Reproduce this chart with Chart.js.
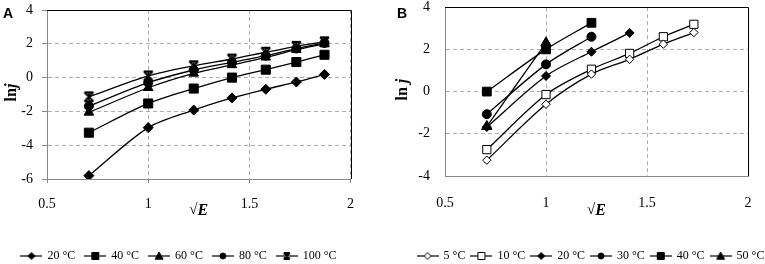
<!DOCTYPE html>
<html><head><meta charset="utf-8">
<script src="https://cdn.jsdelivr.net/npm/chart.js@4/dist/chart.umd.min.js"></script>
<style>
html,body{margin:0;padding:0;background:#fff;overflow:hidden;width:765px;height:264px;}
#wa{position:absolute;left:0;top:0;width:358px;height:272px;}
#wb{position:absolute;left:385px;top:0;width:412px;height:272px;}
</style></head><body>
<div id="wa"><canvas id="ca"></canvas></div>
<div id="wb"><canvas id="cb"></canvas></div>
<script>
// ---- data ----
const sqrtE = [0.707, 1.0, 1.225, 1.414, 1.581, 1.732, 1.871];
const xTicks = [0.5, 1, 1.5, 2];
const yTicksA = [-6, -4, -2, 0, 2, 4];
const yTicksB = [-4, -2, 0, 2, 4];

const labelsA = ['20 °C', '40 °C', '60 °C', '80 °C', '100 °C'];
const a20  = [-5.8, -2.96, -1.92, -1.2, -0.69, -0.26, 0.19];
const a40  = [-3.26, -1.53, -0.65, 0.0, 0.47, 0.92, 1.35];
const a60  = [-2.06, -0.6, 0.25, 0.75, 1.2, 1.65, 2.0];
const a80  = [-1.69, -0.3, 0.45, 0.9, 1.3, 1.72, 2.05];
const a100 = [-1.14, 0.1, 0.7, 1.1, 1.5, 1.85, 2.12];

const labelsB = ['5 °C', '10 °C', '20 °C', '30 °C', '40 °C', '50 °C'];
const b5  = [-3.25, -0.6, 0.83, 1.53, 2.25, 2.8];
const b10 = [-2.75, -0.14, 1.06, 1.81, 2.6, 3.19];
const b20 = [-1.68, 0.74, 1.89, 2.78];
const b30 = [-1.07, 1.29, 2.6];
const b40 = [0.0, 2.0, 3.26];
const b50 = [-1.65, 2.31];

// ---- marker helpers ----
function drawMarker(ctx, kind, x, y, s, fill) {
  ctx.save();
  ctx.strokeStyle = '#000';
  ctx.fillStyle = fill;
  ctx.lineWidth = 1;
  ctx.beginPath();
  if (kind === 'diamond') {
    ctx.moveTo(x, y - s); ctx.lineTo(x + s, y); ctx.lineTo(x, y + s); ctx.lineTo(x - s, y); ctx.closePath();
    ctx.fill(); ctx.stroke();
  } else if (kind === 'square') {
    ctx.rect(x - s, y - s, 2 * s, 2 * s); ctx.fill(); ctx.stroke();
  } else if (kind === 'triangle') {
    ctx.moveTo(x, y - s); ctx.lineTo(x + s, y + s * 0.8); ctx.lineTo(x - s, y + s * 0.8); ctx.closePath();
    ctx.fill(); ctx.stroke();
  } else if (kind === 'circle') {
    ctx.arc(x, y, s, 0, Math.PI * 2); ctx.fill(); ctx.stroke();
  } else if (kind === 'star') {
    ctx.lineWidth = 1.8;
    ctx.moveTo(x - s, y - s); ctx.lineTo(x + s, y + s);
    ctx.moveTo(x + s, y - s); ctx.lineTo(x - s, y + s);
    ctx.moveTo(x, y - s); ctx.lineTo(x, y + s);
    ctx.moveTo(x - s, y - s); ctx.lineTo(x + s, y - s);
    ctx.moveTo(x - s, y + s); ctx.lineTo(x + s, y + s);
    ctx.stroke();
  }
  ctx.restore();
}
function markerCanvas(kind, s, fill) {
  const c = document.createElement('canvas');
  const n = Math.ceil(2 * s + 4);
  c.width = n; c.height = n;
  drawMarker(c.getContext('2d'), kind, n / 2, n / 2, s, fill);
  return c;
}
function legendCanvas(kind, s, fill) {
  const c = document.createElement('canvas');
  c.width = 22; c.height = 12;
  const g = c.getContext('2d');
  g.strokeStyle = '#000'; g.lineWidth = 1.2;
  g.beginPath(); g.moveTo(0, 6); g.lineTo(22, 6); g.stroke();
  drawMarker(g, kind, 11, 6, s, fill);
  return c;
}
const pts = (ys) => ys.map((v, i) => ({x: sqrtE[i], y: v}));

const builtin = {diamond: 'rectRot', square: 'rect', triangle: 'triangle', circle: 'circle'};
function ds(label, ys, kind, radius, fill, legendSize) {
  return {
    label, data: pts(ys),
    borderColor: '#000', borderWidth: 1.3, tension: 0.3,
    pointStyle: kind === 'star' ? markerCanvas('star', radius, fill) : builtin[kind],
    pointRadius: radius, pointHoverRadius: radius,
    pointBackgroundColor: fill, pointBorderColor: '#000', pointBorderWidth: 1,
    legendImg: legendCanvas(kind, legendSize, fill)
  };
}

function decor(id, letter, letterX, ytX, ytSpace) {
  return {
    id: id,
    beforeDatasetsDraw(chart) {
      const {ctx, chartArea: a} = chart;
      ctx.save();
      ctx.strokeStyle = '#000'; ctx.lineWidth = 1;
      ctx.beginPath();
      ctx.moveTo(a.left, Math.round(a.top) + 0.5);
      ctx.lineTo(Math.round(a.right) + 0.5, Math.round(a.top) + 0.5);
      ctx.lineTo(Math.round(a.right) + 0.5, a.bottom);
      ctx.stroke();
      ctx.restore();
    },
    afterDraw(chart) {
      const {ctx, chartArea: a} = chart;
      ctx.save();
      ctx.fillStyle = '#000';
      ctx.font = 'bold 14px "Liberation Sans", Arial, sans-serif';
      ctx.textAlign = 'left'; ctx.textBaseline = 'middle';
      ctx.fillText(letter, letterX, 14);
      ctx.save();
      ctx.translate(ytX, (a.top + a.bottom) / 2 - 2);
      ctx.rotate(-Math.PI / 2);
      const f1 = 'bold 16px "Liberation Serif", serif';
      const f2 = 'bold italic 16px "Liberation Serif", serif';
      ctx.font = f1; const t1 = 'ln' + ytSpace; const w1 = ctx.measureText(t1).width;
      ctx.font = f2; const w2 = ctx.measureText('j').width;
      let x0 = -(w1 + w2) / 2;
      ctx.textAlign = 'left'; ctx.textBaseline = 'middle';
      ctx.font = f1; ctx.fillText(t1, x0, 0);
      ctx.font = f2; ctx.fillText('j', x0 + w1, 0);
      ctx.restore();
      const g1 = '15px "Liberation Serif", serif';
      const g2 = 'bold italic 16px "Liberation Serif", serif';
      ctx.font = g1; const v1 = ctx.measureText('√').width;
      ctx.font = g2; const v2 = ctx.measureText('E').width;
      const cx = (a.left + a.right) / 2;
      let xs = cx - (v1 + v2) / 2;
      ctx.textAlign = 'left'; ctx.textBaseline = 'middle';
      ctx.font = g1; ctx.fillText('√', xs, 210);
      ctx.font = g2; ctx.fillText('E', xs + v1, 211);
      ctx.restore();
    }
  };
}

function makeChart(canvasId, datasets, yTicks, opt) {
  const tickFont = {family: '"Liberation Serif", serif', size: 14};
  return new Chart(document.getElementById(canvasId), {
    type: 'line',
    data: {datasets},
    options: {
      responsive: true, maintainAspectRatio: false, animation: false,
      layout: {padding: {top: opt.top, left: 0, right: 0, bottom: 0}},
      plugins: {
        tooltip: {enabled: false},
        legend: {
          position: 'bottom',
          labels: {
            usePointStyle: true, pointStyleWidth: 20, padding: opt.legPad,
            color: '#000',
            font: {family: '"Liberation Serif", serif', size: opt.legFont},
            generateLabels(chart) {
              return chart.data.datasets.map((d, i) => ({
                text: d.label, pointStyle: d.legendImg, fillStyle: '#000',
                strokeStyle: '#000', lineWidth: 0, hidden: false, datasetIndex: i,
                fontColor: '#000'
              }));
            }
          }
        }
      },
      scales: {
        x: {
          type: 'linear', min: 0.5, max: 2,
          afterBuildTicks: s => { s.ticks = xTicks.map(v => ({value: v})); },
          afterFit: s => { s.height = opt.xh; s.paddingLeft = 0; s.paddingRight = 0; },
          ticks: {font: tickFont, color: '#000', padding: opt.xpad, maxRotation: 0,
                  callback: v => String(v)},
          grid: {color: '#adadad', lineWidth: 1, drawTicks: opt.ticks, tickLength: 4,
                 tickColor: '#888', tickBorderDash: []},
          border: {color: '#888', width: 1, dash: [4, 3]}
        },
        y: {
          type: 'linear', min: yTicks[0], max: yTicks[yTicks.length - 1],
          afterBuildTicks: s => { s.ticks = yTicks.map(v => ({value: v})); },
          afterFit: s => { s.width = opt.yw; s.paddingTop = 0; s.paddingBottom = 0; },
          ticks: {font: tickFont, color: '#000', padding: opt.ypad, callback: v => String(v)},
          grid: {color: '#adadad', lineWidth: 1, drawTicks: opt.ticks, tickLength: 5,
                 tickColor: '#888', tickBorderDash: []},
          border: {color: '#888', width: 1, dash: [4, 3]}
        },
        yr: {
          type: 'linear', position: 'right', display: true,
          afterFit: s => { s.width = opt.rw; s.paddingTop = 0; s.paddingBottom = 0; },
          ticks: {display: false}, grid: {display: false}, border: {display: false}
        }
      }
    },
    plugins: [decor('decor' + canvasId, opt.letter, opt.letterX, opt.ytX, opt.ytSpace)]
  });
}

const dsA = [
  ds(labelsA[0], a20, 'diamond', 5, '#000', 3.5),
  ds(labelsA[1], a40, 'square', 6.4, '#000', 3.5),
  ds(labelsA[2], a60, 'triangle', 5.5, '#000', 4),
  ds(labelsA[3], a80, 'circle', 4.5, '#000', 3),
  ds(labelsA[4], a100, 'star', 4.5, '#000', 3)
];
const dsB = [
  ds(labelsB[0], b5, 'diamond', 4.2, '#fff', 3.5),
  ds(labelsB[1], b10, 'square', 5.8, '#fff', 3.5),
  ds(labelsB[2], b20, 'diamond', 4.5, '#000', 3.5),
  ds(labelsB[3], b30, 'circle', 4.5, '#000', 3),
  ds(labelsB[4], b40, 'square', 6.2, '#000', 3.5),
  ds(labelsB[5], b50, 'triangle', 6, '#000', 4)
];

makeChart('ca', dsA, yTicksA, {top: 10, xh: 61, yw: 47, rw: 5, xpad: 13, ypad: 9, ticks: true,
  legPad: 10, legFont: 12, letter: 'A', letterX: 3, ytX: 12, ytSpace: ''});
makeChart('cb', dsB, yTicksB, {top: 7, xh: 68, yw: 60, rw: 49, xpad: 19, ypad: 15, ticks: false,
  legPad: 6, legFont: 12, letter: 'B', letterX: 12, ytX: 18, ytSpace: ' '});
</script>
</body></html>
